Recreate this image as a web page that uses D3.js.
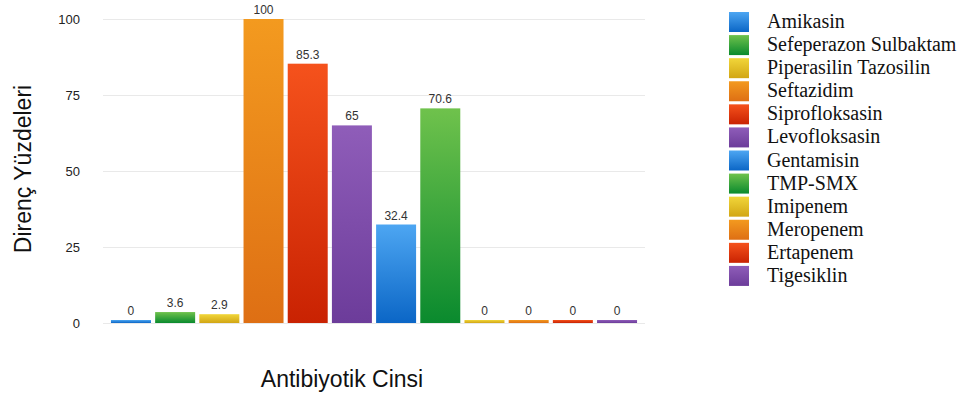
<!DOCTYPE html>
<html>
<head>
<meta charset="utf-8">
<script src="https://cdn.jsdelivr.net/npm/d3@7"></script>
<style>
  html, body { margin: 0; padding: 0; background: #fff; }
  svg { display: block; }
</style>
</head>
<body>
<svg id="chart" width="965" height="401"></svg>
<script>
// Antibiotic resistance percentages
const categories = [
  "Amikasin", "Sefeperazon Sulbaktam", "Piperasilin Tazosilin", "Seftazidim",
  "Siprofloksasin", "Levofloksasin", "Gentamisin", "TMP-SMX",
  "Imipenem", "Meropenem", "Ertapenem", "Tigesiklin"
];
const values = [0, 3.6, 2.9, 100, 85.3, 65, 32.4, 70.6, 0, 0, 0, 0];
const colorKeys = ["blue", "green", "yellow", "orange", "red", "purple",
                   "blue", "green", "yellow", "orange", "red", "purple"];
const yTicks = [0, 25, 50, 75, 100];
const yTitle = "Direnç Yüzdeleri";
const xTitle = "Antibiyotik Cinsi";

// top / bottom gradient stops for each palette colour
const palette = {
  blue:   ["#4da6f2", "#0b66c6"],
  green:  ["#6fc24c", "#0a8a2e"],
  yellow: ["#f1d63a", "#d2a614"],
  orange: ["#f39a1f", "#de6f14"],
  red:    ["#f5521c", "#c92202"],
  purple: ["#8f5db9", "#6c3c9a"]
};

const svg = d3.select("#chart");
const defs = svg.append("defs");
Object.entries(palette).forEach(([k, [c0, c1]]) => {
  const g = defs.append("linearGradient").attr("id", "grad-" + k)
    .attr("x1", 0).attr("y1", 0).attr("x2", 0).attr("y2", 1);
  g.append("stop").attr("offset", "0%").attr("stop-color", c0);
  g.append("stop").attr("offset", "100%").attr("stop-color", c1);
});

const plot = { left: 103, right: 645, top: 19, bottom: 323 };

const x = d3.scaleBand()
  .domain(categories)
  .range([plot.left, plot.right])
  .paddingInner(0.095)
  .paddingOuter(0.18);

const y = d3.scaleLinear()
  .domain([0, 100])
  .range([plot.bottom, plot.top]);

// gridlines
svg.append("g").selectAll("line")
  .data(yTicks)
  .join("line")
  .attr("x1", plot.left).attr("x2", plot.right)
  .attr("y1", d => y(d) + 0.5).attr("y2", d => y(d) + 0.5)
  .attr("stroke", "#e9e9e9").attr("stroke-width", 1);

// y axis labels
const yAxis = d3.axisLeft(y).tickValues(yTicks).tickSize(0).tickPadding(0);
const yg = svg.append("g").attr("transform", "translate(80,0)").call(yAxis);
yg.select(".domain").remove();
yg.selectAll("text")
  .attr("font-family", "Liberation Sans, Arial, sans-serif")
  .attr("font-size", 13).attr("fill", "#222");

// bars (zero values still show a thin sliver)
const minH = 3;
const barTop = v => Math.min(y(v), plot.bottom - minH);
svg.append("g").selectAll("rect")
  .data(categories)
  .join("rect")
  .attr("x", d => x(d))
  .attr("width", x.bandwidth())
  .attr("y", (d, i) => barTop(values[i]))
  .attr("height", (d, i) => plot.bottom - barTop(values[i]))
  .attr("fill", (d, i) => `url(#grad-${colorKeys[i]})`);

// value labels
svg.append("g").selectAll("text")
  .data(categories)
  .join("text")
  .attr("x", d => x(d) + x.bandwidth() / 2)
  .attr("y", (d, i) => barTop(values[i]) - 5)
  .attr("text-anchor", "middle")
  .attr("font-family", "Liberation Sans, Arial, sans-serif")
  .attr("font-size", 12).attr("fill", "#333")
  .text((d, i) => d3.format("~g")(values[i]));

// axis titles
svg.append("text")
  .attr("transform", "translate(31,169) rotate(-90)")
  .attr("text-anchor", "middle")
  .attr("font-family", "Liberation Sans, Arial, sans-serif")
  .attr("font-size", 23).attr("fill", "#111")
  .text(yTitle);

svg.append("text")
  .attr("x", 342).attr("y", 387)
  .attr("text-anchor", "middle")
  .attr("font-family", "Liberation Sans, Arial, sans-serif")
  .attr("font-size", 23).attr("fill", "#111")
  .text(xTitle);

// legend
const legendRow = d3.scaleBand().domain(categories).range([12, 289]);
const lg = svg.append("g").selectAll("g")
  .data(categories)
  .join("g")
  .attr("transform", d => `translate(729,${legendRow(d)})`);
lg.append("rect")
  .attr("width", 20).attr("height", 20)
  .attr("fill", (d, i) => `url(#grad-${colorKeys[i]})`);
lg.append("text")
  .attr("x", 38).attr("y", 16)
  .attr("font-family", "Liberation Serif, Times New Roman, serif")
  .attr("font-size", 20).attr("fill", "#111")
  .text(d => d);
</script>
</body>
</html>
